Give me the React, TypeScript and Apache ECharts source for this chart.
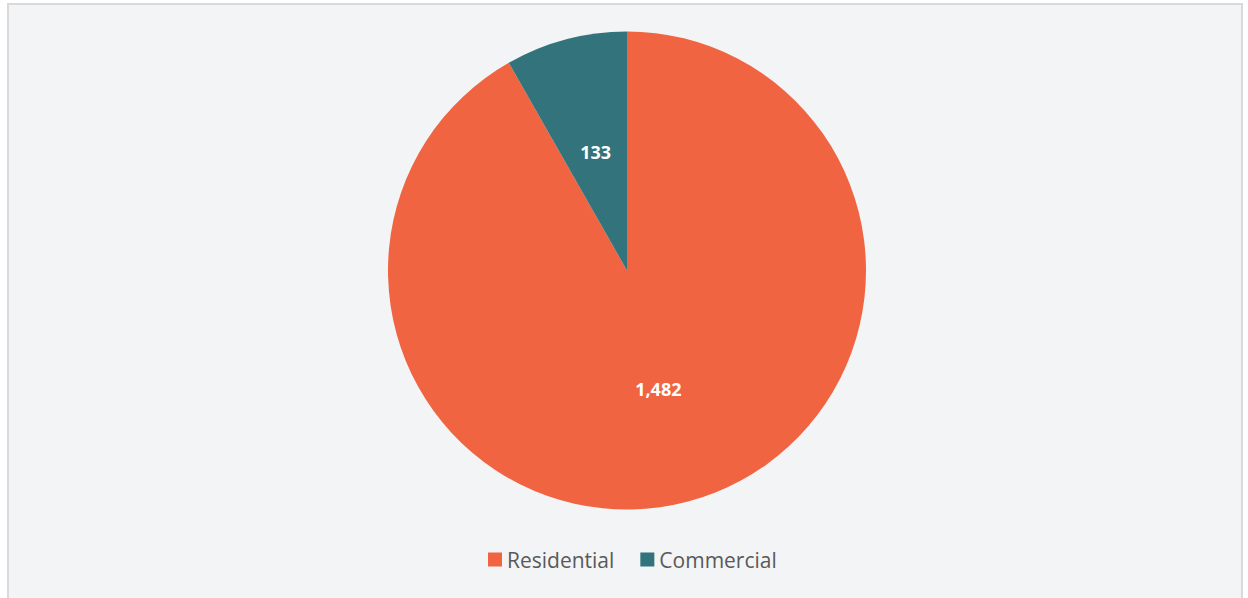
import React, { useEffect, useRef } from "react";
import * as echarts from "echarts";

const categories = ["Residential", "Commercial"];
const values = [1482, 133];
const colors = ["#F06441", "#33737B"];

export default function App() {
  const ref = useRef<HTMLDivElement>(null);
  useEffect(() => {
    if (!ref.current) return;
    const chart = echarts.init(ref.current, undefined, { renderer: "svg" });
    chart.setOption({
      animation: false,
      backgroundColor: "#ffffff",
      graphic: [
        {
          type: "rect",
          z: -10,
          silent: true,
          shape: { x: 8, y: 4, width: 1234, height: 620 },
          style: { fill: "#F3F4F6", stroke: "#D9D9D9", lineWidth: 2 },
        },
      ],
      legend: {
        bottom: 23,
        left: 483,
        itemWidth: 14,
        itemHeight: 14,
        itemGap: 26,
        icon: "rect",
        textStyle: { fontFamily: "Open Sans", fontSize: 21, color: "#595959" },
        data: categories,
      },
      series: [
        {
          type: "pie",
          center: [627, 270.5],
          radius: [0, 239],
          startAngle: 90,
          clockwise: true,
          label: {
            show: true,
            position: "inside",
            color: "#ffffff",
            fontFamily: "Open Sans",
            fontWeight: "bold",
            fontSize: 18,
            formatter: (p: any) => p.value.toLocaleString("en-US"),
          },
          labelLine: { show: false },
          emphasis: { disabled: true },
          data: categories.map((c, i) => ({
            name: c,
            value: values[i],
            itemStyle: { color: colors[i] },
          })),
        },
      ],
    });
    return () => chart.dispose();
  }, []);
  return (
    <div
      ref={ref}
      style={{ position: "absolute", left: 0, top: 0, width: 1248, height: 598 }}
    />
  );
}
